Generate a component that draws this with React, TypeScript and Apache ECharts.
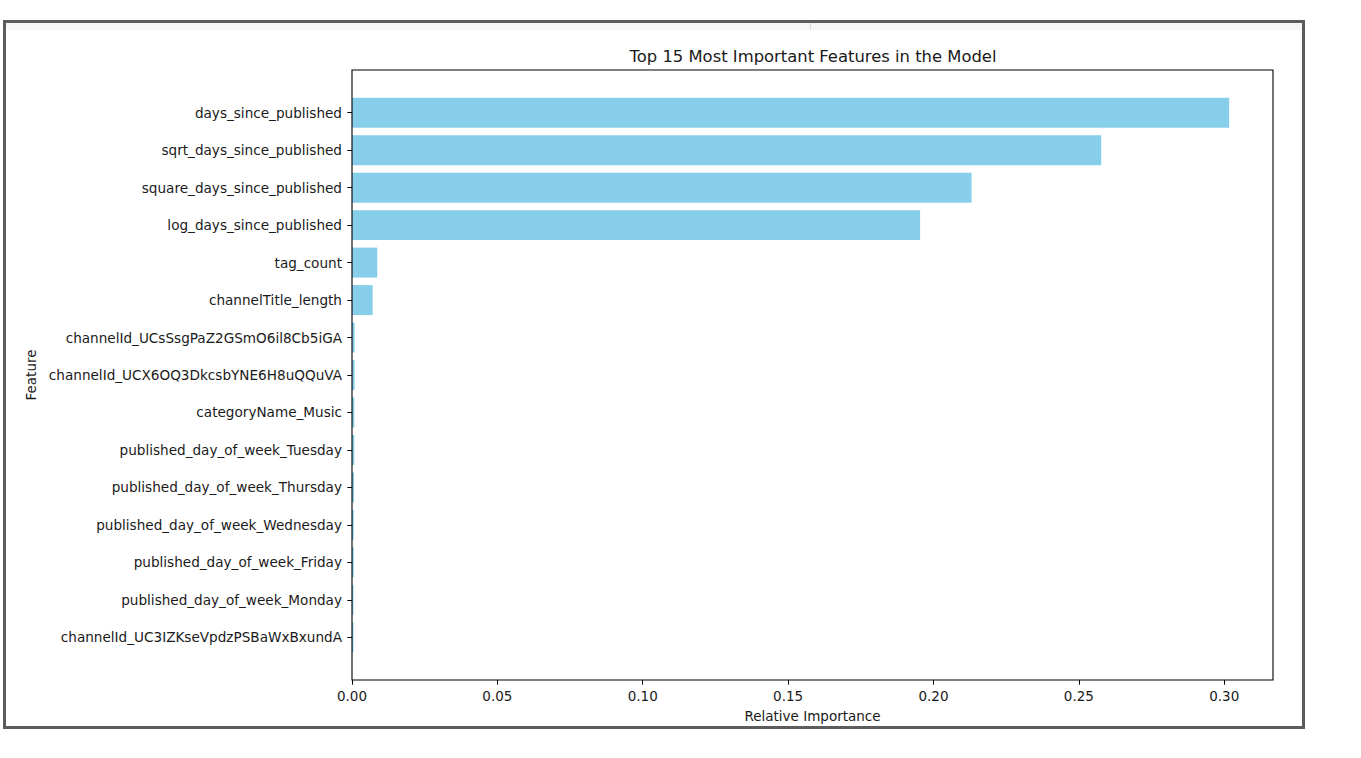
import React, { useEffect, useRef } from "react";
import * as echarts from "echarts";

const features: string[] = [
  "days_since_published",
  "sqrt_days_since_published",
  "square_days_since_published",
  "log_days_since_published",
  "tag_count",
  "channelTitle_length",
  "channelId_UCsSsgPaZ2GSmO6il8Cb5iGA",
  "channelId_UCX6OQ3DkcsbYNE6H8uQQuVA",
  "categoryName_Music",
  "published_day_of_week_Tuesday",
  "published_day_of_week_Thursday",
  "published_day_of_week_Wednesday",
  "published_day_of_week_Friday",
  "published_day_of_week_Monday",
  "channelId_UC3IZKseVpdzPSBaWxBxundA",
];

const importance: number[] = [
  0.3017, 0.2577, 0.2131, 0.1954, 0.0087, 0.0071, 0.0009, 0.0009, 0.0008,
  0.0008, 0.0007, 0.0006, 0.0006, 0.0005, 0.0005,
];

const xTicks: number[] = [0, 0.05, 0.1, 0.15, 0.2, 0.25, 0.3];

const FONT = "DejaVu Sans";
const TXT = "#1a1a1a";

export default function App() {
  const ref = useRef<HTMLDivElement>(null);
  useEffect(() => {
    document.body.style.margin = "0";
    if (!ref.current) return;
    const chart = echarts.init(ref.current, undefined, { renderer: "svg" });
    const plotL = 352, plotR = 1273, plotT = 70, plotB = 680;
    const unitH = (plotB - plotT) / 16.28;
    const catTop = plotT + 0.64 * unitH;
    const catBottom = plotB - 0.64 * unitH;
    const xMax = Math.max(...importance) * 1.05;
    chart.setOption({
      animation: false,
      textStyle: { fontFamily: FONT },
      title: {
        text: "Top 15 Most Important Features in the Model",
        left: 808,
        textAlign: "center",
        top: 43,
        textStyle: { fontFamily: FONT, fontSize: 16.4, fontWeight: "normal", color: TXT },
      },
      graphic: [
        { type: "rect", z: -10, shape: { x: 4.5, y: 21.5, width: 1299, height: 706 }, style: { fill: "#fff", stroke: "#5c5c5c", lineWidth: 3 } },
        { type: "rect", z: -9, shape: { x: 6, y: 23, width: 1296, height: 7 }, style: { fill: "#f6f6f6" } },
        { type: "line", z: -8, shape: { x1: 810.5, y1: 23, x2: 810.5, y2: 30 }, style: { stroke: "#d8d8d8", lineWidth: 1 } },
        { type: "rect", z: 10, shape: { x: plotL, y: plotT, width: plotR - plotL, height: plotB - plotT }, style: { fill: "none", stroke: "#000", lineWidth: 1.1 } },
      ],
      grid: {
        left: plotL,
        right: 1361 - plotR,
        top: catTop,
        bottom: 758 - catBottom,
        containLabel: false,
      },
      xAxis: {
        type: "value",
        min: 0,
        max: xMax,
        offset: plotB - catBottom,
        splitLine: { show: false },
        axisLine: { show: false },
        axisTick: { show: true, length: 4.7, customValues: xTicks, lineStyle: { color: "#000", width: 1 } },
        axisLabel: {
          customValues: xTicks,
          margin: 9,
          fontFamily: FONT,
          fontSize: 13.5,
          color: TXT,
          formatter: (v: number) => v.toFixed(2),
        },
        name: "Relative Importance",
        nameLocation: "middle",
        nameGap: 29,
        nameTextStyle: { fontFamily: FONT, fontSize: 13.5, color: TXT },
      },
      yAxis: {
        type: "category",
        data: features,
        inverse: true,
        axisLine: { show: false },
        axisTick: { show: true, length: 4.7, alignWithLabel: true, lineStyle: { color: "#000", width: 1 } },
        axisLabel: { margin: 10, fontFamily: FONT, fontSize: 13.6, color: TXT, interval: 0 },
        name: "Feature",
        nameLocation: "middle",
        nameGap: 310,
        nameRotate: 90,
        nameTextStyle: { fontFamily: FONT, fontSize: 13.5, color: TXT },
      },
      series: [
        {
          type: "bar",
          data: importance,
          barCategoryGap: "20%",
          itemStyle: { color: "#87CEEB" },
        },
      ],
    });
    return () => chart.dispose();
  }, []);
  return <div ref={ref} style={{ width: 1361, height: 758, position: "absolute", left: 0, top: 0 }} />;
}
